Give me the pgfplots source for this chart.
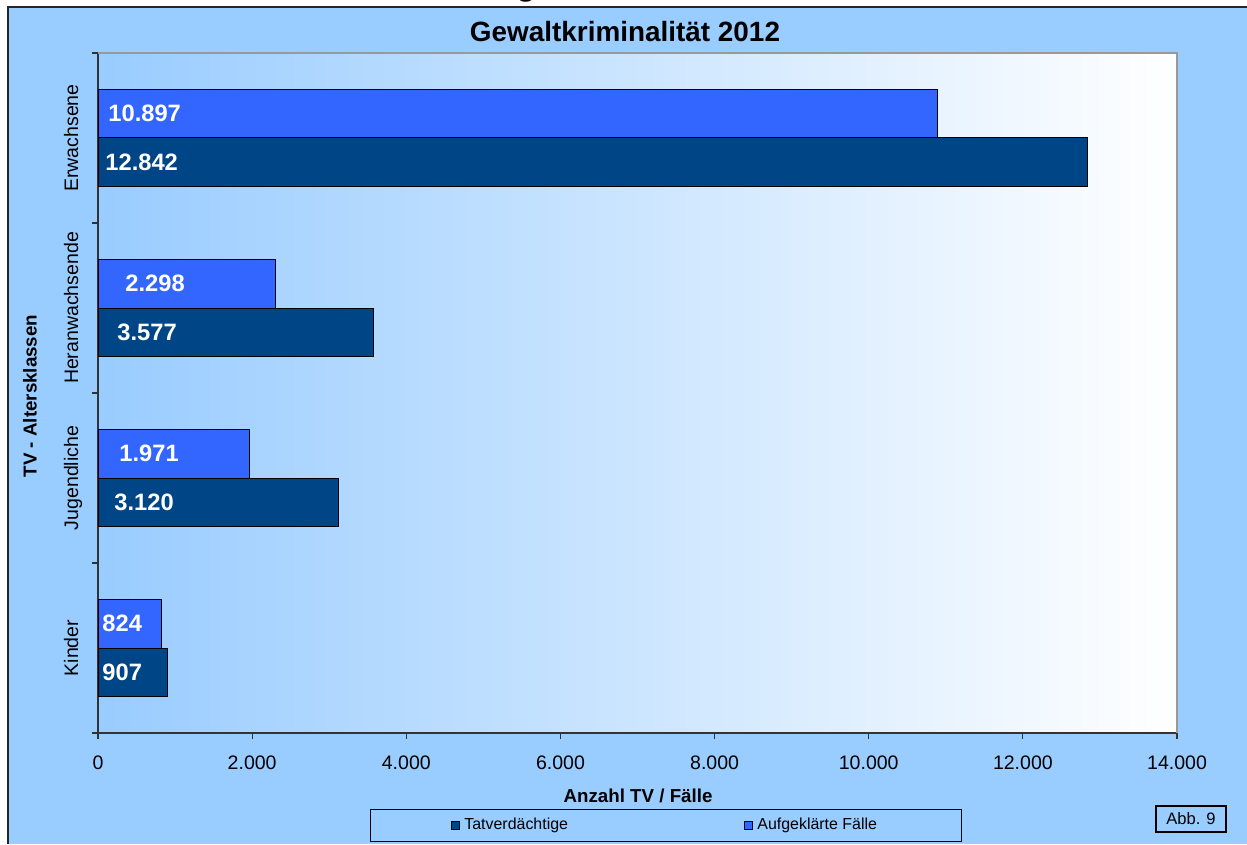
\documentclass[border=0pt]{standalone}
\usepackage{pgfplots}
\pgfplotsset{compat=1.18}
\usepackage{fontspec}
\setmainfont{Liberation Sans}
\definecolor{bgblue}{RGB}{153,204,255}
\definecolor{darkbar}{RGB}{0,69,134}
\definecolor{lightbar}{RGB}{51,102,255}
\begin{document}
\begin{tikzpicture}[x=1bp,y=1bp]
\useasboundingbox (0,0) rectangle (623.5,422);
\fill[white] (0,0) rectangle (623.5,422);
\fill[bgblue] (4,0) rectangle (623.5,418.5);
\begin{scope}
\clip (0,420.4) rectangle (623.5,422);
\node[font=\bfseries\fontsize{16}{16}\selectfont, anchor=base, inner sep=0pt] at (263,424.3) {g};
\end{scope}
\draw[line width=1.1bp, black!85] (4,0) -- (4,418.5) -- (623.5,418.5);
\begin{axis}[
  at={(49bp,55.5bp)}, anchor=south west,
  scale only axis, width=539.5bp, height=340bp,
  xmin=0, xmax=14000, ymin=-0.5, ymax=3.5,
  scaled x ticks=false,
  axis background/.style={left color=bgblue, right color=white},
  axis x line*=bottom, axis y line*=left,
  axis line style={black!80, line width=0.6bp, -},
  tick align=outside, major tick length=3bp, minor tick length=3bp,
  every tick/.append style={black!80, line width=0.6bp},
  xtick={0,2000,4000,6000,8000,10000,12000,14000},
  xticklabels={0,2.000,4.000,6.000,8.000,10.000,12.000,14.000},
  ytick={0,1,2,3},
  yticklabels={Kinder,Jugendliche,Heranwachsende,Erwachsene},
  every major y tick/.append style={draw=none},
  minor ytick={-0.5,0.5,1.5,2.5,3.5},
  tick label style={font=\fontsize{9.8}{11}\selectfont, text=black},
  xticklabel style={anchor=north, inner sep=0pt, yshift=-8bp},
  yticklabel style={xshift=-7bp, rotate=90, anchor=base, inner sep=0pt},
  title={Gewaltkriminalität 2012},
  title style={at={(axis description cs:0.4884,1.0133)}, anchor=center, font=\bfseries\fontsize{14}{16}\selectfont, inner sep=0pt},
  xlabel={Anzahl TV / Fälle},
  xlabel style={at={(axis description cs:0.5005,-0.0926)}, anchor=center, font=\bfseries\fontsize{9.4}{11}\selectfont, inner sep=0pt},
  ylabel={TV - Altersklassen},
  ylabel style={at={(axis description cs:-0.0630,0.4956)}, anchor=center, font=\bfseries\fontsize{9.4}{11}\selectfont, inner sep=0pt},
  legend columns=2,
  legend style={at={(axis description cs:0.5264,-0.136)}, anchor=center,
    draw=black, fill=bgblue, line width=0.5bp,
    font=\fontsize{8}{9.5}\selectfont,
    inner xsep=40bp, inner ysep=2.5bp,
    /tikz/every even column/.append style={column sep=86bp}},
  clip=false,
]
\addplot[xbar, bar width=0.288, bar shift=-0.144, fill=darkbar, draw=black, line width=0.5bp,
  legend image code/.code={\draw[fill=darkbar, draw=black, line width=0.5bp] (0bp,-2.1bp) rectangle (4.2bp,2.1bp);}]
  coordinates {(907,0) (3120,1) (3577,2) (12842,3)};
\addlegendentry{Tatverdächtige}
\addplot[xbar, bar width=0.288, bar shift=0.144, fill=lightbar, draw=black, line width=0.5bp,
  legend image code/.code={\draw[fill=lightbar, draw=black, line width=0.5bp] (0bp,-2.1bp) rectangle (4.2bp,2.1bp);}]
  coordinates {(824,0) (1971,1) (2298,2) (10897,3)};
\addlegendentry{Aufgeklärte Fälle}
\addplot[forget plot, draw=none, mark=none, nodes near coords, point meta=explicit symbolic,
  every node near coord/.append style={anchor=west, inner sep=0pt, text=white, font=\bfseries\fontsize{11.9}{13}\selectfont}]
  coordinates {(52,-0.144) [907] (208,0.856) [3.120] (247,1.856) [3.577] (91,2.856) [12.842]};
\addplot[forget plot, draw=none, mark=none, nodes near coords, point meta=explicit symbolic,
  every node near coord/.append style={anchor=west, inner sep=0pt, text=white, font=\bfseries\fontsize{11.9}{13}\selectfont}]
  coordinates {(52,0.144) [824] (272,1.144) [1.971] (350,2.144) [2.298] (130,3.144) [10.897]};
\draw[black!40, line width=0.8bp] (rel axis cs:0,1) -- (rel axis cs:1,1) -- (rel axis cs:1,0);
\end{axis}
\node[draw=black, fill=bgblue, line width=0.6bp, font=\fontsize{8.3}{10}\selectfont, minimum width=35bp, minimum height=13bp, inner sep=0pt] at (595.5,12.5) {Abb. 9};
\end{tikzpicture}
\end{document}
